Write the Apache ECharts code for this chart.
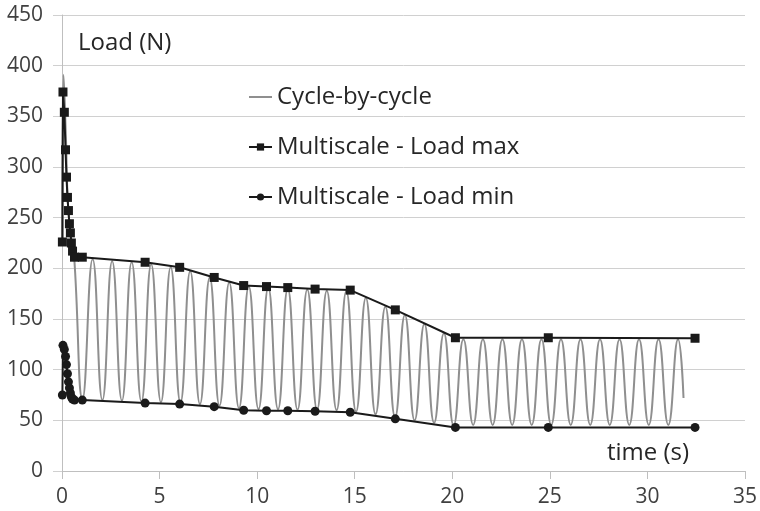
<!DOCTYPE html>
<html>
<head>
    <meta charset="utf-8">
    <title>Load vs time</title>
    <script src="https://cdn.jsdelivr.net/npm/echarts@6/dist/echarts.min.js"></script>
    <style>
        html, body { margin: 0; padding: 0; background: #fff; }
        #chart { width: 760px; height: 511px; }
    </style>
</head>
<body>
<div id="chart"></div>
<script>
    // multiscale points (time in s, load in N)
    var msTime = [0.02, 0.05, 0.12, 0.18, 0.23, 0.28, 0.33, 0.38, 0.43, 0.48, 0.54, 0.64, 1.04,
        4.26, 6.03, 7.8, 9.31, 10.48, 11.57, 12.97, 14.77, 17.08, 20.16, 24.92, 32.44];
    var msMax = [226, 374, 354, 317, 290, 270, 257, 244, 235, 225, 217, 211, 211,
        206, 201, 191, 183, 182, 181, 179.5, 178.5, 159, 131.5, 131.5, 131];
    var msMin = [75, 124, 120, 113, 105, 96, 88, 82, 77, 73, 71, 70, 70,
        67, 66, 63.5, 60, 59.5, 59.5, 59, 58, 51.5, 43, 43, 43];

    // cycle-by-cycle curve, read at its turning points
    var cycTime = [0.02, 0.08, 0.2, 0.3, 0.45, 0.62, 1.05,
        1.57, 2.07, 2.57, 3.07, 3.57, 4.07, 4.57, 5.07, 5.57, 6.07, 6.57, 7.07, 7.57, 8.07,
        8.57, 9.07, 9.57, 10.07, 10.57, 11.07, 11.57, 12.07, 12.57, 13.07, 13.57, 14.07,
        14.57, 15.07, 15.57, 16.07, 16.57, 17.07, 17.57, 18.07, 18.57, 19.07, 19.57, 20.07,
        20.57, 21.07, 21.57, 22.07, 22.57, 23.07, 23.57, 24.07, 24.57, 25.07, 25.57, 26.07,
        26.57, 27.07, 27.57, 28.07, 28.57, 29.07, 29.57, 30.07, 30.57, 31.07, 31.57, 31.85];
    var cycLoad = [226, 391, 330, 265, 232, 212, 71,
        209, 70, 207, 69.5, 206, 68.5, 204, 68, 201, 67.5, 197, 66, 191, 64.5,
        186, 62, 182, 61, 181, 61, 180, 60.5, 179, 60.5, 178, 60,
        177.5, 58.5, 171, 56, 162, 53, 154, 50, 145, 47.5, 136, 45,
        130, 45.5, 130, 45.5, 130, 45.5, 130, 45.5, 130, 45.5, 130, 45.5,
        130, 45.5, 130, 45.5, 130, 45.5, 130, 45.5, 130, 45.5, 130, 72];

    var xTicks = [0, 5, 10, 15, 20, 25, 30, 35];
    var yTicks = [0, 50, 100, 150, 200, 250, 300, 350, 400, 450];

    function pairs(xs, ys) {
        var out = [];
        for (var i = 0; i < xs.length; i++) {
            out.push([xs[i], ys[i]]);
        }
        return out;
    }

    var font = '"Open Sans", sans-serif';
    var chart = echarts.init(document.getElementById('chart'), null, {renderer: 'canvas'});

    var option = {
        animation: false,
        backgroundColor: '#fff',
        grid: {left: 62, right: 13, top: 15, bottom: 40},
        legend: {
            orient: 'vertical',
            left: 243,
            top: 80,
            itemWidth: 23,
            itemHeight: 9,
            itemGap: 26,
            textStyle: {fontFamily: font, fontSize: 24, color: '#262626', lineHeight: 24},
            data: [
                {name: 'Cycle-by-cycle', icon: 'path://M0,0 L23,0 L23,2 L0,2 Z'},
                {name: 'Multiscale - Load max'},
                {name: 'Multiscale - Load min'}
            ]
        },
        xAxis: {
            type: 'value',
            min: xTicks[0],
            max: xTicks[xTicks.length - 1],
            interval: 5,
            axisLine: {lineStyle: {color: '#bfbfbf', width: 1}},
            axisTick: {show: true, length: 8, lineStyle: {color: '#bfbfbf'}},
            axisLabel: {margin: 16, fontFamily: font, fontSize: 21, color: '#404040'},
            splitLine: {show: false}
        },
        yAxis: {
            type: 'value',
            min: yTicks[0],
            max: yTicks[yTicks.length - 1],
            interval: 50,
            axisLine: {show: true, lineStyle: {color: '#bfbfbf', width: 1}},
            axisTick: {show: true, length: 9, lineStyle: {color: '#d0d0d0'}},
            axisLabel: {margin: 19, fontFamily: font, fontSize: 21, color: '#404040'},
            splitLine: {lineStyle: {color: '#d0d0d0', width: 1}}
        },
        graphic: [
            {type: 'text', left: 78, top: 31,
                style: {text: 'Load (N)', font: '24px ' + font, fill: '#262626'}},
            {type: 'text', left: 607, top: 441,
                style: {text: 'time (s)', font: '24px ' + font, fill: '#262626'}}
        ],
        series: [
            {
                name: 'Cycle-by-cycle',
                type: 'line',
                symbol: 'none',
                smooth: 0.5,
                lineStyle: {color: '#8f8f8f', width: 2},
                itemStyle: {color: '#8f8f8f'},
                data: pairs(cycTime, cycLoad)
            },
            {
                name: 'Multiscale - Load max',
                type: 'line',
                symbol: 'rect',
                symbolSize: 9,
                lineStyle: {color: '#1a1a1a', width: 2},
                itemStyle: {color: '#1a1a1a'},
                data: pairs(msTime, msMax)
            },
            {
                name: 'Multiscale - Load min',
                type: 'line',
                symbol: 'circle',
                symbolSize: 9,
                lineStyle: {color: '#1a1a1a', width: 2},
                itemStyle: {color: '#1a1a1a'},
                data: pairs(msTime, msMin)
            }
        ]
    };
    chart.setOption(option);
</script>
</body>
</html>
